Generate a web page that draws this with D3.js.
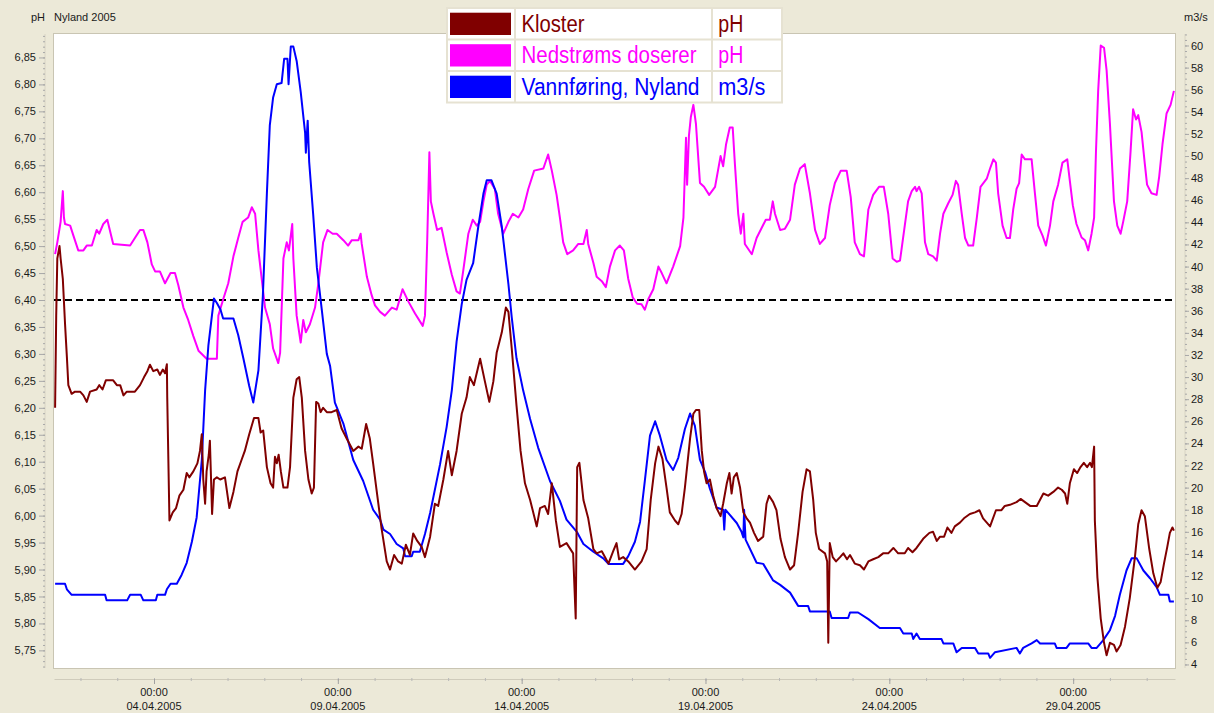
<!DOCTYPE html>
<html><head><meta charset="utf-8">
<script src="https://cdn.jsdelivr.net/npm/d3@7"></script>
<style>html,body{margin:0;padding:0;background:#ECE9D8;overflow:hidden}</style>
</head><body><svg id="c" width="1214" height="713"></svg>
<script>
// ---- DATA (time = days since 01.04.2005 00:00) ----
const viewDays = [0.28, 30.77];
const thresholdPH = 6.40;
const phTicks = [5.75,5.80,5.85,5.90,5.95,6.00,6.05,6.10,6.15,6.20,6.25,6.30,6.35,6.40,6.45,6.50,6.55,6.60,6.65,6.70,6.75,6.80,6.85];
const flowTicks = [4,6,8,10,12,14,16,18,20,22,24,26,28,30,32,34,36,38,40,42,44,46,48,50,52,54,56,58,60];
const dateTickLabels = ["04.04.2005","09.04.2005","14.04.2005","19.04.2005","24.04.2005","29.04.2005"];
const timeTickLabel = "00:00";
const seriesNames = ["Kloster","Nedstrøms doserer","Vannføring, Nyland"];
const seriesUnits = ["pH","pH","m3/s"];

const kloster = [[0.31,6.200],[0.34,6.371],[0.37,6.477],[0.43,6.500],[0.46,6.477],[0.52,6.439],[0.58,6.356],[0.63,6.295],[0.67,6.242],[0.76,6.226],[0.85,6.230],[0.99,6.230],[1.08,6.223],[1.17,6.211],[1.26,6.230],[1.44,6.234],[1.51,6.242],[1.60,6.234],[1.69,6.251],[1.89,6.251],[1.99,6.242],[2.08,6.242],[2.17,6.223],[2.26,6.230],[2.48,6.230],[2.62,6.242],[2.73,6.257],[2.82,6.268],[2.89,6.280],[2.98,6.268],[3.09,6.271],[3.16,6.261],[3.24,6.271],[3.30,6.264],[3.35,6.281],[3.36,6.219],[3.42,5.991],[3.51,6.006],[3.60,6.014],[3.69,6.037],[3.80,6.048],[3.89,6.079],[3.96,6.071],[4.07,6.082],[4.18,6.097],[4.25,6.120],[4.30,6.151],[4.34,6.067],[4.39,6.022],[4.43,6.082],[4.49,6.113],[4.52,6.139],[4.58,6.003],[4.63,6.067],[4.71,6.071],[4.80,6.067],[4.93,6.071],[5.05,6.014],[5.16,6.044],[5.27,6.082],[5.39,6.105],[5.47,6.120],[5.59,6.151],[5.72,6.181],[5.84,6.181],[5.90,6.154],[5.97,6.158],[6.07,6.090],[6.17,6.060],[6.24,6.052],[6.29,6.109],[6.34,6.097],[6.39,6.113],[6.45,6.082],[6.52,6.052],[6.63,6.052],[6.70,6.090],[6.79,6.219],[6.88,6.253],[6.95,6.257],[7.02,6.219],[7.11,6.120],[7.20,6.067],[7.29,6.041],[7.35,6.052],[7.41,6.211],[7.47,6.208],[7.53,6.192],[7.60,6.200],[7.70,6.192],[7.83,6.192],[7.97,6.196],[8.10,6.162],[8.24,6.143],[8.42,6.120],[8.56,6.128],[8.65,6.124],[8.77,6.170],[8.87,6.143],[8.96,6.097],[9.06,6.044],[9.19,5.976],[9.33,5.915],[9.42,5.900],[9.53,5.927],[9.64,5.915],[9.74,5.911],[9.85,5.946],[9.96,5.927],[10.05,5.967],[10.16,5.953],[10.28,5.942],[10.37,5.923],[10.51,5.961],[10.64,6.022],[10.73,6.018],[10.87,6.067],[11.00,6.120],[11.10,6.075],[11.23,6.120],[11.37,6.189],[11.50,6.219],[11.59,6.257],[11.70,6.242],[11.87,6.291],[12.00,6.249],[12.12,6.211],[12.23,6.249],[12.32,6.302],[12.46,6.340],[12.57,6.386],[12.64,6.378],[12.73,6.310],[12.86,6.204],[12.97,6.120],[13.09,6.060],[13.23,6.029],[13.41,5.980],[13.50,6.014],[13.63,6.018],[13.72,6.003],[13.82,6.060],[13.93,5.991],[14.04,5.942],[14.22,5.949],[14.40,5.930],[14.47,5.809],[14.51,6.090],[14.57,6.098],[14.68,6.029],[14.81,5.995],[14.95,5.938],[15.04,5.930],[15.18,5.934],[15.36,5.911],[15.49,5.934],[15.58,5.949],[15.65,5.919],[15.76,5.923],[15.90,5.915],[16.08,5.900],[16.26,5.915],[16.40,5.938],[16.51,6.029],[16.63,6.097],[16.72,6.128],[16.83,6.105],[16.94,6.052],[17.03,6.006],[17.17,5.991],[17.26,5.984],[17.35,6.003],[17.44,6.052],[17.58,6.143],[17.67,6.189],[17.74,6.196],[17.83,6.196],[17.90,6.120],[17.96,6.082],[18.03,6.060],[18.12,6.067],[18.21,6.037],[18.30,6.014],[18.41,5.999],[18.48,6.022],[18.58,6.060],[18.65,6.079],[18.71,6.041],[18.77,6.071],[18.85,6.079],[18.94,6.052],[19.03,6.006],[19.12,5.995],[19.21,5.987],[19.32,5.968],[19.43,5.953],[19.57,5.961],[19.66,6.022],[19.73,6.037],[19.84,6.025],[19.93,6.010],[20.04,5.957],[20.16,5.923],[20.30,5.900],[20.41,5.908],[20.52,5.968],[20.64,6.044],[20.75,6.086],[20.84,6.082],[20.93,6.029],[21.00,5.968],[21.09,5.938],[21.25,5.930],[21.31,5.915],[21.34,5.764],[21.38,5.949],[21.46,5.923],[21.55,5.915],[21.66,5.923],[21.75,5.930],[21.85,5.919],[21.93,5.927],[22.06,5.911],[22.20,5.908],[22.31,5.900],[22.43,5.915],[22.56,5.919],[22.70,5.923],[22.83,5.930],[22.97,5.930],[23.11,5.940],[23.24,5.930],[23.42,5.930],[23.51,5.940],[23.63,5.932],[23.74,5.940],[23.92,5.957],[24.09,5.968],[24.19,5.970],[24.29,5.953],[24.38,5.961],[24.49,5.961],[24.58,5.978],[24.69,5.968],[24.78,5.980],[24.92,5.987],[25.03,5.995],[25.19,6.003],[25.33,6.006],[25.45,6.010],[25.55,5.995],[25.74,5.980],[25.90,6.010],[26.05,6.010],[26.14,6.018],[26.28,6.020],[26.46,6.025],[26.57,6.031],[26.69,6.025],[26.83,6.018],[27.01,6.018],[27.19,6.041],[27.32,6.037],[27.46,6.044],[27.59,6.052],[27.69,6.048],[27.78,6.041],[27.84,6.022],[27.91,6.060],[28.02,6.086],[28.11,6.079],[28.20,6.090],[28.29,6.098],[28.38,6.090],[28.46,6.098],[28.51,6.090],[28.57,6.128],[28.59,5.991],[28.66,5.885],[28.75,5.809],[28.84,5.764],[28.91,5.741],[29.00,5.764],[29.11,5.760],[29.18,5.748],[29.29,5.760],[29.41,5.794],[29.54,5.847],[29.68,5.923],[29.77,5.984],[29.86,6.010],[29.95,5.999],[30.07,5.938],[30.18,5.893],[30.29,5.866],[30.38,5.877],[30.47,5.911],[30.56,5.942],[30.63,5.968],[30.70,5.978],[30.74,5.972]];

const nedstroms = [[0.31,6.485],[0.37,6.507],[0.46,6.545],[0.52,6.602],[0.55,6.553],[0.58,6.541],[0.72,6.538],[0.81,6.519],[0.94,6.492],[1.08,6.492],[1.17,6.501],[1.31,6.501],[1.44,6.530],[1.51,6.523],[1.62,6.541],[1.73,6.549],[1.89,6.504],[2.35,6.501],[2.48,6.515],[2.62,6.530],[2.71,6.530],[2.82,6.507],[2.94,6.466],[3.03,6.453],[3.16,6.453],[3.30,6.431],[3.45,6.450],[3.57,6.450],[3.66,6.428],[3.80,6.386],[3.93,6.363],[4.07,6.333],[4.21,6.306],[4.43,6.291],[4.71,6.291],[4.75,6.371],[4.88,6.401],[5.02,6.431],[5.16,6.481],[5.29,6.515],[5.41,6.545],[5.56,6.553],[5.66,6.572],[5.75,6.560],[5.84,6.492],[6.02,6.386],[6.15,6.355],[6.24,6.310],[6.38,6.283],[6.43,6.302],[6.52,6.477],[6.61,6.507],[6.67,6.492],[6.76,6.541],[6.79,6.477],[6.88,6.371],[6.99,6.321],[7.06,6.363],[7.13,6.340],[7.24,6.355],[7.38,6.386],[7.47,6.431],[7.60,6.507],[7.72,6.530],[7.86,6.523],[7.97,6.523],[8.15,6.511],[8.28,6.501],[8.38,6.511],[8.56,6.511],[8.62,6.523],[8.65,6.504],[8.79,6.443],[8.92,6.409],[9.01,6.390],[9.15,6.378],[9.28,6.371],[9.47,6.386],[9.60,6.382],[9.76,6.420],[9.92,6.397],[10.10,6.375],[10.31,6.352],[10.37,6.371],[10.43,6.507],[10.49,6.674],[10.53,6.583],[10.60,6.560],[10.70,6.530],[10.82,6.534],[10.96,6.488],[11.10,6.447],[11.23,6.416],[11.32,6.412],[11.41,6.454],[11.55,6.523],[11.67,6.549],[11.78,6.538],[11.87,6.545],[11.96,6.583],[12.05,6.614],[12.14,6.621],[12.27,6.606],[12.36,6.560],[12.50,6.523],[12.64,6.545],[12.76,6.560],[12.91,6.553],[13.04,6.568],[13.18,6.606],[13.34,6.640],[13.59,6.644],[13.72,6.670],[13.82,6.640],[13.95,6.595],[14.04,6.553],[14.13,6.507],[14.24,6.485],[14.40,6.492],[14.54,6.504],[14.68,6.504],[14.77,6.530],[14.81,6.504],[14.95,6.469],[15.04,6.443],[15.18,6.435],[15.29,6.424],[15.40,6.462],[15.54,6.492],[15.67,6.501],[15.78,6.492],[15.90,6.439],[16.02,6.405],[16.14,6.393],[16.26,6.392],[16.35,6.382],[16.44,6.401],[16.58,6.420],[16.72,6.462],[16.81,6.450],[16.94,6.431],[17.12,6.462],[17.31,6.500],[17.40,6.553],[17.47,6.701],[17.50,6.614],[17.55,6.705],[17.60,6.739],[17.67,6.762],[17.74,6.727],[17.85,6.617],[17.96,6.610],[18.10,6.595],[18.26,6.610],[18.41,6.667],[18.48,6.648],[18.56,6.689],[18.66,6.720],[18.74,6.720],[18.80,6.652],[18.89,6.560],[18.96,6.523],[19.03,6.560],[19.07,6.504],[19.26,6.485],[19.39,6.515],[19.53,6.534],[19.64,6.549],[19.75,6.549],[19.83,6.583],[19.89,6.560],[20.03,6.530],[20.16,6.532],[20.30,6.549],[20.43,6.614],[20.57,6.644],[20.70,6.652],[20.84,6.598],[20.98,6.530],[21.11,6.504],[21.25,6.515],[21.38,6.576],[21.52,6.617],[21.68,6.640],[21.84,6.640],[21.95,6.591],[22.06,6.507],[22.20,6.485],[22.31,6.481],[22.43,6.568],[22.56,6.595],[22.72,6.610],[22.85,6.610],[22.97,6.560],[23.09,6.477],[23.20,6.471],[23.29,6.473],[23.42,6.538],[23.51,6.583],[23.61,6.602],[23.70,6.610],[23.74,6.602],[23.81,6.610],[23.88,6.598],[23.97,6.507],[24.06,6.485],[24.19,6.481],[24.29,6.473],[24.38,6.523],[24.47,6.560],[24.60,6.579],[24.72,6.595],[24.81,6.621],[24.87,6.614],[24.97,6.560],[25.06,6.515],[25.15,6.501],[25.28,6.501],[25.38,6.553],[25.48,6.610],[25.65,6.625],[25.74,6.644],[25.83,6.661],[25.90,6.655],[25.96,6.598],[26.08,6.538],[26.19,6.515],[26.28,6.515],[26.37,6.568],[26.46,6.606],[26.53,6.617],[26.60,6.670],[26.69,6.661],[26.87,6.661],[26.96,6.598],[27.05,6.538],[27.17,6.519],[27.26,6.501],[27.37,6.538],[27.46,6.583],[27.59,6.614],[27.71,6.655],[27.84,6.661],[27.91,6.621],[27.99,6.576],[28.09,6.541],[28.23,6.516],[28.32,6.511],[28.41,6.492],[28.50,6.523],[28.57,6.553],[28.62,6.674],[28.68,6.788],[28.75,6.872],[28.84,6.868],[28.91,6.826],[29.00,6.727],[29.11,6.583],[29.20,6.538],[29.29,6.523],[29.36,6.545],[29.47,6.583],[29.56,6.674],[29.63,6.754],[29.71,6.735],[29.77,6.743],[29.86,6.712],[29.95,6.652],[30.01,6.614],[30.13,6.598],[30.27,6.595],[30.34,6.629],[30.43,6.689],[30.54,6.746],[30.65,6.762],[30.74,6.788]];

const vannforing = [[0.31,11.3],[0.58,11.3],[0.63,10.8],[0.76,10.3],[1.67,10.3],[1.71,9.8],[2.27,9.8],[2.35,10.3],[2.64,10.3],[2.71,9.8],[3.05,9.8],[3.09,10.3],[3.30,10.3],[3.35,10.8],[3.45,11.3],[3.62,11.3],[3.75,12.1],[3.89,13.2],[4.03,15.1],[4.16,17.3],[4.30,22.5],[4.39,28.8],[4.48,32.9],[4.63,37.1],[4.71,36.7],[4.81,36.1],[4.88,35.3],[5.16,35.3],[5.29,33.8],[5.43,31.7],[5.59,29.2],[5.70,27.7],[5.84,30.6],[5.96,37.3],[6.07,46.6],[6.15,52.8],[6.24,55.3],[6.34,56.5],[6.47,56.6],[6.54,58.8],[6.63,58.8],[6.66,56.5],[6.72,59.9],[6.79,59.9],[6.88,58.6],[6.99,55.8],[7.11,52.1],[7.13,50.3],[7.18,53.2],[7.22,49.5],[7.33,44.7],[7.43,39.9],[7.56,36.2],[7.70,32.1],[7.79,31.0],[7.92,27.7],[8.15,25.8],[8.42,22.5],[8.69,20.6],[8.96,18.0],[9.15,17.1],[9.24,16.2],[9.42,15.8],[9.60,14.9],[9.78,14.5],[9.83,13.8],[10.01,13.8],[10.05,14.2],[10.23,14.2],[10.37,15.8],[10.51,17.7],[10.78,22.1],[10.96,25.5],[11.10,28.8],[11.23,33.2],[11.37,36.6],[11.50,38.8],[11.68,40.3],[11.82,43.6],[11.96,46.6],[12.05,47.8],[12.18,47.8],[12.32,46.6],[12.46,43.6],[12.64,38.4],[12.73,35.4],[12.86,31.7],[13.04,28.8],[13.23,26.2],[13.45,23.6],[13.77,20.6],[14.04,18.8],[14.22,17.1],[14.50,16.0],[14.68,14.9],[14.95,14.2],[15.22,13.6],[15.36,13.1],[15.76,13.1],[15.90,13.8],[16.08,15.1],[16.22,16.9],[16.35,20.6],[16.49,24.7],[16.63,26.0],[16.76,24.7],[16.94,22.5],[17.12,21.6],[17.26,22.7],[17.44,25.3],[17.58,26.7],[17.71,25.6],[17.85,22.5],[17.99,21.4],[18.12,19.9],[18.30,18.2],[18.48,18.0],[18.51,16.2],[18.54,18.0],[18.85,16.8],[18.98,16.0],[19.03,15.5],[19.05,18.0],[19.09,15.3],[19.39,13.2],[19.57,13.1],[19.84,11.6],[20.03,11.2],[20.30,10.5],[20.52,9.3],[20.79,9.3],[20.84,8.8],[21.38,8.8],[21.43,8.2],[21.88,8.2],[21.93,8.7],[22.15,8.7],[22.43,8.1],[22.74,7.3],[23.29,7.3],[23.38,6.8],[23.61,6.8],[23.65,6.3],[23.74,6.8],[23.83,6.3],[24.42,6.3],[24.47,5.9],[24.74,5.9],[24.83,5.1],[24.97,5.5],[25.33,5.5],[25.42,5.0],[25.69,5.0],[25.74,4.6],[25.87,5.1],[26.46,5.5],[26.55,5.0],[26.64,5.5],[26.87,5.9],[27.01,6.2],[27.10,5.9],[27.50,5.9],[27.55,5.5],[27.82,5.5],[27.91,5.9],[28.41,5.9],[28.50,5.5],[28.64,5.5],[28.82,6.2],[29.00,7.1],[29.14,8.4],[29.27,10.3],[29.45,12.5],[29.59,13.6],[29.73,13.6],[29.91,12.5],[30.09,11.8],[30.27,11.0],[30.36,10.3],[30.59,10.3],[30.63,9.7],[30.74,9.7]];

// ---- DRAWING ----
const BASE = Date.UTC(2005, 3, 1), DAY = 86400000;
const toDate = d => new Date(BASE + d * DAY);
const W = 1214, H = 713, PL = 54, PR = 1175, PT = 34, PB = 668;
const FONT = "'Liberation Sans', Arial, sans-serif";
const colors = ["#800000", "#FF00FF", "#0000FF"];

const svg = d3.select("#c");
svg.append("rect").attr("width", W).attr("height", H).attr("fill", "#ECE9D8");
svg.append("rect").attr("x", PL - 0.5).attr("y", PT - 0.5).attr("width", PR - PL + 1).attr("height", PB - PT + 1)
  .attr("fill", "#fff").attr("stroke", "#c9c5b3");

const x = d3.scaleUtc().domain(viewDays.map(toDate)).range([PL, PR]);
const yPH = d3.scaleLinear().domain([5.7173, 6.8935]).range([PB, PT]);
const yQ = d3.scaleLinear().domain([3.68, 61.04]).range([PB, PT]);

svg.append("defs").append("clipPath").attr("id", "clip")
  .append("rect").attr("x", PL).attr("y", PT).attr("width", PR - PL).attr("height", PB - PT);

// axes styling helper
function styleAxis(g, tickColor, lineColor) {
  g.select(".domain").attr("stroke", lineColor);
  g.selectAll(".tick line").attr("stroke", tickColor);
  g.selectAll(".tick text").attr("fill", "#1a1a1a").attr("font-family", FONT).attr("font-size", "11px");
}

// left axis
const leftMinor = svg.append("g").attr("transform", "translate(45,0)")
  .call(d3.axisLeft(yPH).tickValues(d3.range(572, 690).map(i => i / 100)).tickSize(2).tickFormat("").tickSizeOuter(0));
styleAxis(leftMinor, "#a8a8a8", "#d8d4c4");
leftMinor.select(".domain").attr("d", `M0,${PT}V${PB}`);
const leftMajor = svg.append("g").attr("transform", "translate(45,0)")
  .call(d3.axisLeft(yPH).tickValues(phTicks).tickSize(6).tickPadding(3).tickSizeOuter(0)
    .tickFormat(d => d.toFixed(2).replace(".", ",")));
styleAxis(leftMajor, "#a8a8a8", "none");
leftMajor.select(".domain").remove();

// right axis
const rightMinor = svg.append("g").attr("transform", "translate(1185,0)")
  .call(d3.axisRight(yQ).tickValues(d3.range(8, 123).map(i => i / 2)).tickSize(2).tickFormat("").tickSizeOuter(0));
styleAxis(rightMinor, "#a8a8a8", "#d8d4c4");
rightMinor.select(".domain").attr("d", `M0,${PT}V${PB}`);
const rightMajor = svg.append("g").attr("transform", "translate(1185,0)")
  .call(d3.axisRight(yQ).tickValues(flowTicks).tickSize(4).tickPadding(2).tickSizeOuter(0));
styleAxis(rightMajor, "#a8a8a8", "none");
rightMajor.select(".domain").remove();

// bottom axis
const parseDate = d3.utcParse("%d.%m.%Y");
const majorDates = dateTickLabels.map(parseDate);
const bottomMinor = svg.append("g").attr("transform", "translate(0,679)")
  .call(d3.axisBottom(x).tickValues(d3.utcDay.range(x.domain()[0], x.domain()[1])).tickSize(2).tickFormat("").tickSizeOuter(0));
styleAxis(bottomMinor, "#b8b8b8", "#cfcbbb");
bottomMinor.selectAll(".tick line").attr("y1", -1);
const bottomMajor = svg.append("g").attr("transform", "translate(0,679)")
  .call(d3.axisBottom(x).tickValues(majorDates).tickSize(5).tickFormat("").tickSizeOuter(0));
styleAxis(bottomMajor, "#a0a0a0", "none");
bottomMajor.select(".domain").remove();
const bl = svg.append("g").attr("font-family", FONT).attr("font-size", "11px").attr("fill", "#1a1a1a").attr("text-anchor", "middle");
majorDates.forEach((d, i) => {
  bl.append("text").attr("x", x(d)).attr("y", 696).text(timeTickLabel);
  bl.append("text").attr("x", x(d)).attr("y", 710).text(dateTickLabels[i]);
});

// titles
const tl = svg.append("g").attr("font-family", FONT).attr("font-size", "11px").attr("fill", "#1a1a1a");
tl.append("text").attr("x", 31).attr("y", 20.5).text("pH");
tl.append("text").attr("x", 54).attr("y", 20.5).text("Nyland 2005");
tl.append("text").attr("x", 1184).attr("y", 20.5).text("m3/s");

// plot content
const plot = svg.append("g").attr("clip-path", "url(#clip)");
plot.append("line").attr("x1", PL).attr("x2", PR).attr("y1", yPH(thresholdPH)).attr("y2", yPH(thresholdPH))
  .attr("stroke", "#000").attr("stroke-width", 2).attr("stroke-dasharray", "7,4");

const linePH = d3.line().x(p => x(toDate(p[0]))).y(p => yPH(p[1]));
const lineQ = d3.line().x(p => x(toDate(p[0]))).y(p => yQ(p[1]));
plot.append("path").attr("d", linePH(nedstroms)).attr("fill", "none").attr("stroke", colors[1]).attr("stroke-width", 2).attr("stroke-linejoin", "round");
plot.append("path").attr("d", lineQ(vannforing)).attr("fill", "none").attr("stroke", colors[2]).attr("stroke-width", 2).attr("stroke-linejoin", "round");
plot.append("path").attr("d", linePH(kloster)).attr("fill", "none").attr("stroke", colors[0]).attr("stroke-width", 2).attr("stroke-linejoin", "round");

// legend
const lg = svg.append("g");
const LX = 447, LW = 335, rowTop = [8, 39.5, 71], RH = 31.5;
const colX = [447, 515, 712, 782];
lg.append("rect").attr("x", LX).attr("y", rowTop[0]).attr("width", LW).attr("height", RH * 3)
  .attr("fill", "#fff").attr("stroke", "#e6e2d2").attr("stroke-width", 2);
rowTop.slice(1).forEach(t => lg.append("line").attr("x1", LX).attr("x2", LX + LW).attr("y1", t).attr("y2", t).attr("stroke", "#e6e2d2").attr("stroke-width", 2));
colX.slice(1, 3).forEach(cx => lg.append("line").attr("x1", cx).attr("x2", cx).attr("y1", rowTop[0]).attr("y2", rowTop[0] + RH * 3).attr("stroke", "#e6e2d2").attr("stroke-width", 2));
const nameW = [63, 175, 178], unitW = [25, 25, 47];
seriesNames.forEach((n, i) => {
  const t = rowTop[i];
  lg.append("rect").attr("x", 450).attr("y", t + 4.7).attr("width", 61).attr("height", 22.3).attr("fill", colors[i]);
  lg.append("text").attr("x", 521.5).attr("y", t + 23.6).attr("font-family", FONT).attr("font-size", "23px")
    .attr("fill", colors[i]).attr("textLength", nameW[i]).attr("lengthAdjust", "spacingAndGlyphs").text(n);
  lg.append("text").attr("x", 718.3).attr("y", t + 23.6).attr("font-family", FONT).attr("font-size", "23px")
    .attr("fill", colors[i]).attr("textLength", unitW[i]).attr("lengthAdjust", "spacingAndGlyphs").text(seriesUnits[i]);
});
</script></body></html>
